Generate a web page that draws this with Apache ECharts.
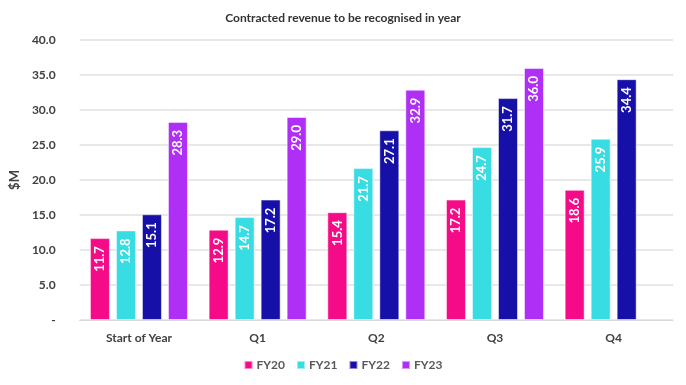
<!DOCTYPE html>
<html><head><meta charset="utf-8">
<script src="https://cdn.jsdelivr.net/npm/echarts@6/dist/echarts.min.js"></script>
<style>html,body{margin:0;padding:0;background:#fff}#c{width:686px;height:385px}</style>
</head><body><div id="c"></div>
<script>
const categories = ['Start of Year','Q1','Q2','Q3','Q4'];
const seriesNames = ['FY20','FY21','FY22','FY23'];
const fy20 = [11.7, 12.9, 15.4, 17.2, 18.6];
const fy21 = [12.8, 14.7, 21.7, 24.7, 25.9];
const fy22 = [15.1, 17.2, 27.1, 31.7, 34.4];
const fy23 = [28.3, 29.0, 32.9, 36.0, null];
const colors = ['#F50A87','#38DCE3','#1610A8','#B02FF7'];
const values = [fy20, fy21, fy22, fy23];
const font = 'Lato, "Open Sans", sans-serif';
const chart = echarts.init(document.getElementById('c'), null, {renderer:'canvas'});
chart.setOption({
  animation:false,
  textStyle:{fontFamily:font},
  title:{text:'Contracted revenue to be recognised in year', left:'center', top:7,
    textStyle:{fontSize:12, fontWeight:'bold', color:'#333', fontFamily:font}},
  legend:{bottom:9, left:'center', itemWidth:8, itemHeight:8, itemGap:11, icon:'rect',
    textStyle:{fontSize:12, fontWeight:'bold', color:'#595959', fontFamily:font, padding:[0,0,0,-1]}},
  grid:{left:79, right:13, top:40, bottom:65},
  xAxis:{type:'category', data:categories,
    axisLine:{lineStyle:{color:'#d9d9d9'}}, axisTick:{show:false},
    axisLabel:{fontSize:12, fontWeight:'bold', color:'#404040', margin:12, fontFamily:font}},
  yAxis:{type:'value', min:0, max:40, interval:5, name:'$M', nameLocation:'middle', nameGap:52,
    nameTextStyle:{fontSize:13, fontWeight:'bold', color:'#404040', fontFamily:font},
    axisLine:{show:false}, axisTick:{show:false},
    splitLine:{lineStyle:{color:'#e0e0e0', width:1.5}},
    axisLabel:{fontSize:12, fontWeight:'bold', color:'#404040', margin:24, fontFamily:font,
      formatter:v => v===0 ? '-' : v.toFixed(1)}},
  series: seriesNames.map((n,i)=>({
    name:n, type:'bar', data:values[i], barWidth:20, barGap:'30%',
    itemStyle:{color:colors[i], borderColor:'rgba(255,255,255,0.5)', borderWidth:1, borderRadius:0},
    label:{show:true, position:'insideTop', rotate:90, align:'right', verticalAlign:'middle',
      distance:8, color:'#fff', fontSize:13, fontWeight:'bold', fontFamily:font,
      formatter:p => p.value==null ? '' : Number(p.value).toFixed(1)}
  }))
});
</script></body></html>
